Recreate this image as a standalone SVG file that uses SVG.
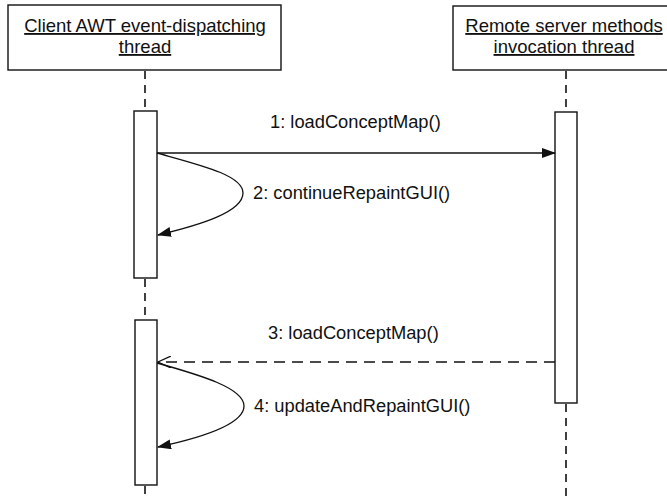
<svg xmlns="http://www.w3.org/2000/svg" width="667" height="496" viewBox="0 0 667 496">
<style>
.box{fill:#fff;stroke:#111;stroke-width:1.4}
.act{fill:#fff;stroke:#111;stroke-width:1.4}
.life{stroke:#111;stroke-width:1.6;stroke-dasharray:8 6;fill:none}
.msg{stroke:#111;stroke-width:1.3;fill:none}
.ret{stroke:#111;stroke-width:1.5;fill:none;stroke-dasharray:11 7}
.hd{font-family:"Liberation Sans",Arial,sans-serif;font-size:18.5px;fill:#111;text-anchor:middle;text-decoration:underline}
.lbl{font-family:"Liberation Sans",Arial,sans-serif;font-size:18.3px;fill:#111}
</style>
<defs>
<marker id="filled" markerWidth="14" markerHeight="10" refX="13" refY="5" orient="auto" markerUnits="userSpaceOnUse">
<path d="M0,0 L14,5 L0,10 Z" fill="#111"/>
</marker>
<marker id="open" markerWidth="14" markerHeight="12" refX="13" refY="6" orient="auto" markerUnits="userSpaceOnUse">
<path d="M0,0 L13,6 L0,12" fill="none" stroke="#111" stroke-width="1.3"/>
</marker>
</defs>
<g id="connectors">
<line class="life" x1="145" y1="71" x2="145" y2="111"/>
<line class="life" x1="145" y1="279" x2="145" y2="319"/>
<line class="life" x1="145" y1="486" x2="145" y2="496"/>
<line class="life" x1="566" y1="71" x2="566" y2="112"/>
<line class="life" x1="566" y1="404" x2="566" y2="496"/>
</g>
<g id="client">
<rect class="box" x="8" y="5" width="273" height="65"/>
<text class="hd" x="145" y="32">Client AWT event-dispatching</text>
<text class="hd" x="145" y="53">thread</text>
</g>
<g id="server">
<rect class="box" x="453" y="6" width="216" height="64"/>
<text class="hd" x="564" y="32">Remote server methods</text>
<text class="hd" x="564" y="53">invocation thread</text>
</g>
<g id="activation-client-1">
<rect class="act" x="134" y="111" width="23" height="167"/>
</g>
<g id="activation-client-2">
<rect class="act" x="135" y="320" width="22" height="165"/>
</g>
<g id="activation-server">
<rect class="act" x="555" y="112" width="22" height="291"/>
</g>
<g id="messages">
<line class="msg" x1="157" y1="153" x2="555" y2="153" marker-end="url(#filled)"/>
<text class="lbl" x="270" y="128">1: loadConceptMap()</text>
<path class="msg" d="M157,153 C200,165 243,175 243,193 C243,212 200,225 158,235" marker-end="url(#filled)"/>
<text class="lbl" x="253" y="199">2: continueRepaintGUI()</text>
<line class="ret" x1="555" y1="362" x2="158" y2="362" marker-end="url(#open)"/>
<text class="lbl" x="268" y="339">3: loadConceptMap()</text>
<path class="msg" d="M157,363 C200,375 244,388 244,406 C244,425 200,438 158,447" marker-end="url(#filled)"/>
<text class="lbl" x="254" y="412">4: updateAndRepaintGUI()</text>
</g>
</svg>
